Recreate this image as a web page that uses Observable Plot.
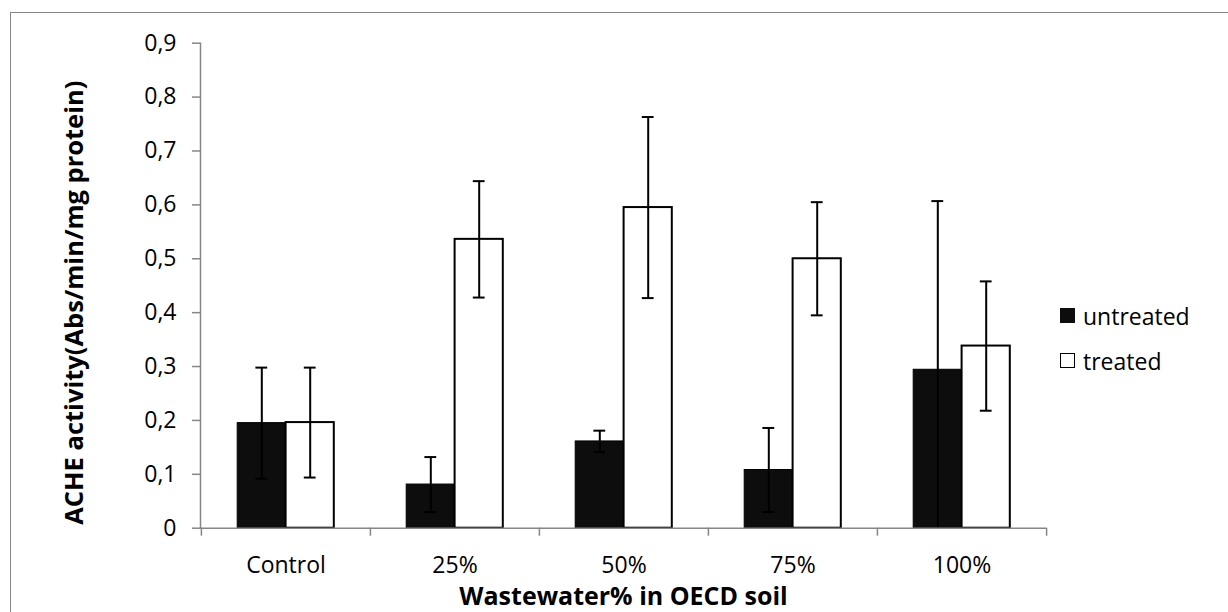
<!DOCTYPE html>
<html>
<head>
<meta charset="utf-8">
<script src="https://cdn.jsdelivr.net/npm/d3@7"></script>
<script src="https://cdn.jsdelivr.net/npm/@observablehq/plot@0.6"></script>
<style>
  html, body { margin: 0; padding: 0; background: #fff; overflow: hidden; }
  #wrap { position: relative; width: 1228px; height: 612px; font-family: "Open Sans", sans-serif; }
  #frame { position: absolute; left: 10px; top: 12px; width: 1400px; height: 800px;
           border-left: 1.5px solid #868686; border-top: 1.5px solid #868686; box-sizing: border-box; }
  #chart { position: absolute; left: 0; top: 0; }
  #legend { position: absolute; left: 1060px; top: 293px; font-size: 23px; color: #000; }
  .row { display: flex; align-items: center; height: 45px; }
  .sw { width: 15px; height: 15px; box-sizing: border-box; margin-right: 8px; }
</style>
</head>
<body>
<div id="wrap">
  <div id="frame"></div>
  <div id="chart"></div>
  <div id="legend"></div>
</div>
<script>
const categories = ["Control", "25%", "50%", "75%", "100%"];
const series = ["untreated", "treated"];
const untreatedMean = [0.195, 0.081, 0.161, 0.108, 0.294];
const untreatedSD   = [0.103, 0.051, 0.020, 0.078, 0.313];
const treatedMean   = [0.196, 0.536, 0.595, 0.500, 0.338];
const treatedSD     = [0.102, 0.108, 0.168, 0.105, 0.120];
const yTicks = [0, 0.1, 0.2, 0.3, 0.4, 0.5, 0.6, 0.7, 0.8, 0.9];
const yLabel = "ACHE activity(Abs/min/mg protein)";
const xLabel = "Wastewater% in OECD soil";

const untreated = categories.map((c, i) => ({cat: c, mean: untreatedMean[i], lo: untreatedMean[i] - untreatedSD[i], hi: untreatedMean[i] + untreatedSD[i]}));
const treated = categories.map((c, i) => ({cat: c, mean: treatedMean[i], lo: treatedMean[i] - treatedSD[i], hi: treatedMean[i] + treatedSD[i]}));

const W = 1228, H = 612;
const mL = 200, mR = 182, mT = 42.7, mB = 84.3;
const step = (W - mL - mR) / categories.length;
const plotH = H - mT - mB;
const off = 24.2;      // half bar width offset of each series within the group
const capHalf = 6;
const axisGray = "#868686";
const barBlack = "#0d0d0d";

const fmt = d => d === 0 ? "0" : d.toFixed(1).replace(".", ",");

const chart = Plot.plot({
  width: W, height: H,
  marginLeft: mL, marginRight: mR, marginTop: mT, marginBottom: mB,
  style: {fontFamily: "'Open Sans', sans-serif", fontSize: "23px", color: "#000", background: "transparent", overflow: "visible"},
  x: {type: "band", domain: categories, padding: 0, label: null},
  y: {domain: [0, 0.9], label: null},
  marks: [
    // bars
    Plot.barY(untreated, {x: "cat", y: "mean", fill: barBlack, stroke: "#000", strokeWidth: 1, insetLeft: step / 2 - 2 * off, insetRight: step / 2}),
    Plot.barY(treated, {x: "cat", y: "mean", fill: "#fff", stroke: "#000", strokeWidth: 2, insetLeft: step / 2, insetRight: step / 2 - 2 * off}),
    // error bars
    Plot.ruleX(untreated, {x: "cat", y1: d => Math.max(0, d.lo), y2: "hi", dx: -off, stroke: "#000", strokeWidth: 2}),
    Plot.ruleX(treated, {x: "cat", y1: "lo", y2: "hi", dx: off, stroke: "#000", strokeWidth: 2}),
    Plot.tickY(untreated.filter(d => d.lo >= 0), {x: "cat", y: "lo", dx: -off, insetLeft: step / 2 - capHalf, insetRight: step / 2 - capHalf, stroke: "#000", strokeWidth: 2}),
    Plot.tickY(untreated, {x: "cat", y: "hi", dx: -off, insetLeft: step / 2 - capHalf, insetRight: step / 2 - capHalf, stroke: "#000", strokeWidth: 2}),
    Plot.tickY(treated, {x: "cat", y: "lo", dx: off, insetLeft: step / 2 - capHalf, insetRight: step / 2 - capHalf, stroke: "#000", strokeWidth: 2}),
    Plot.tickY(treated, {x: "cat", y: "hi", dx: off, insetLeft: step / 2 - capHalf, insetRight: step / 2 - capHalf, stroke: "#000", strokeWidth: 2}),
    // axes lines
    Plot.ruleY([0], {stroke: axisGray, strokeWidth: 1.5}),
    Plot.frame({anchor: "left", stroke: axisGray, strokeWidth: 1.5}),
    // category boundary ticks
    Plot.ruleX(categories, {x: d => d, dx: -step / 2, insetTop: plotH, insetBottom: -8, stroke: axisGray, strokeWidth: 1.5}),
    Plot.ruleX(categories.slice(-1), {x: d => d, dx: step / 2, insetTop: plotH, insetBottom: -8, stroke: axisGray, strokeWidth: 1.5}),
    // axes
    Plot.axisY({ticks: yTicks, tickFormat: fmt, tickSize: 8, tickPadding: 16, stroke: axisGray, strokeWidth: 1.5, label: null, fill: "#000"}),
    Plot.axisX({tickSize: 0, tickPadding: 28, label: null, fill: "#000"}),
    // titles
    Plot.text([yLabel], {frameAnchor: "left", textAnchor: "middle", lineAnchor: "middle", rotate: -90, dx: -126, dy: 17, fontWeight: "bold", fontSize: 25.5, fill: "#000"}),
    Plot.text([xLabel], {frameAnchor: "bottom", textAnchor: "middle", lineAnchor: "middle", dy: 69, fontWeight: "bold", fontSize: 25, fill: "#000"})
  ]
});
document.getElementById("chart").appendChild(chart);

// legend
const legend = document.getElementById("legend");
series.forEach(s => {
  const row = document.createElement("div");
  row.className = "row";
  const sw = document.createElement("div");
  sw.className = "sw";
  if (s === "untreated") { sw.style.background = barBlack; }
  else { sw.style.background = "#fff"; sw.style.border = "1.5px solid #000"; }
  const t = document.createElement("span");
  t.textContent = s;
  row.appendChild(sw);
  row.appendChild(t);
  legend.appendChild(row);
});
</script>
</body>
</html>
